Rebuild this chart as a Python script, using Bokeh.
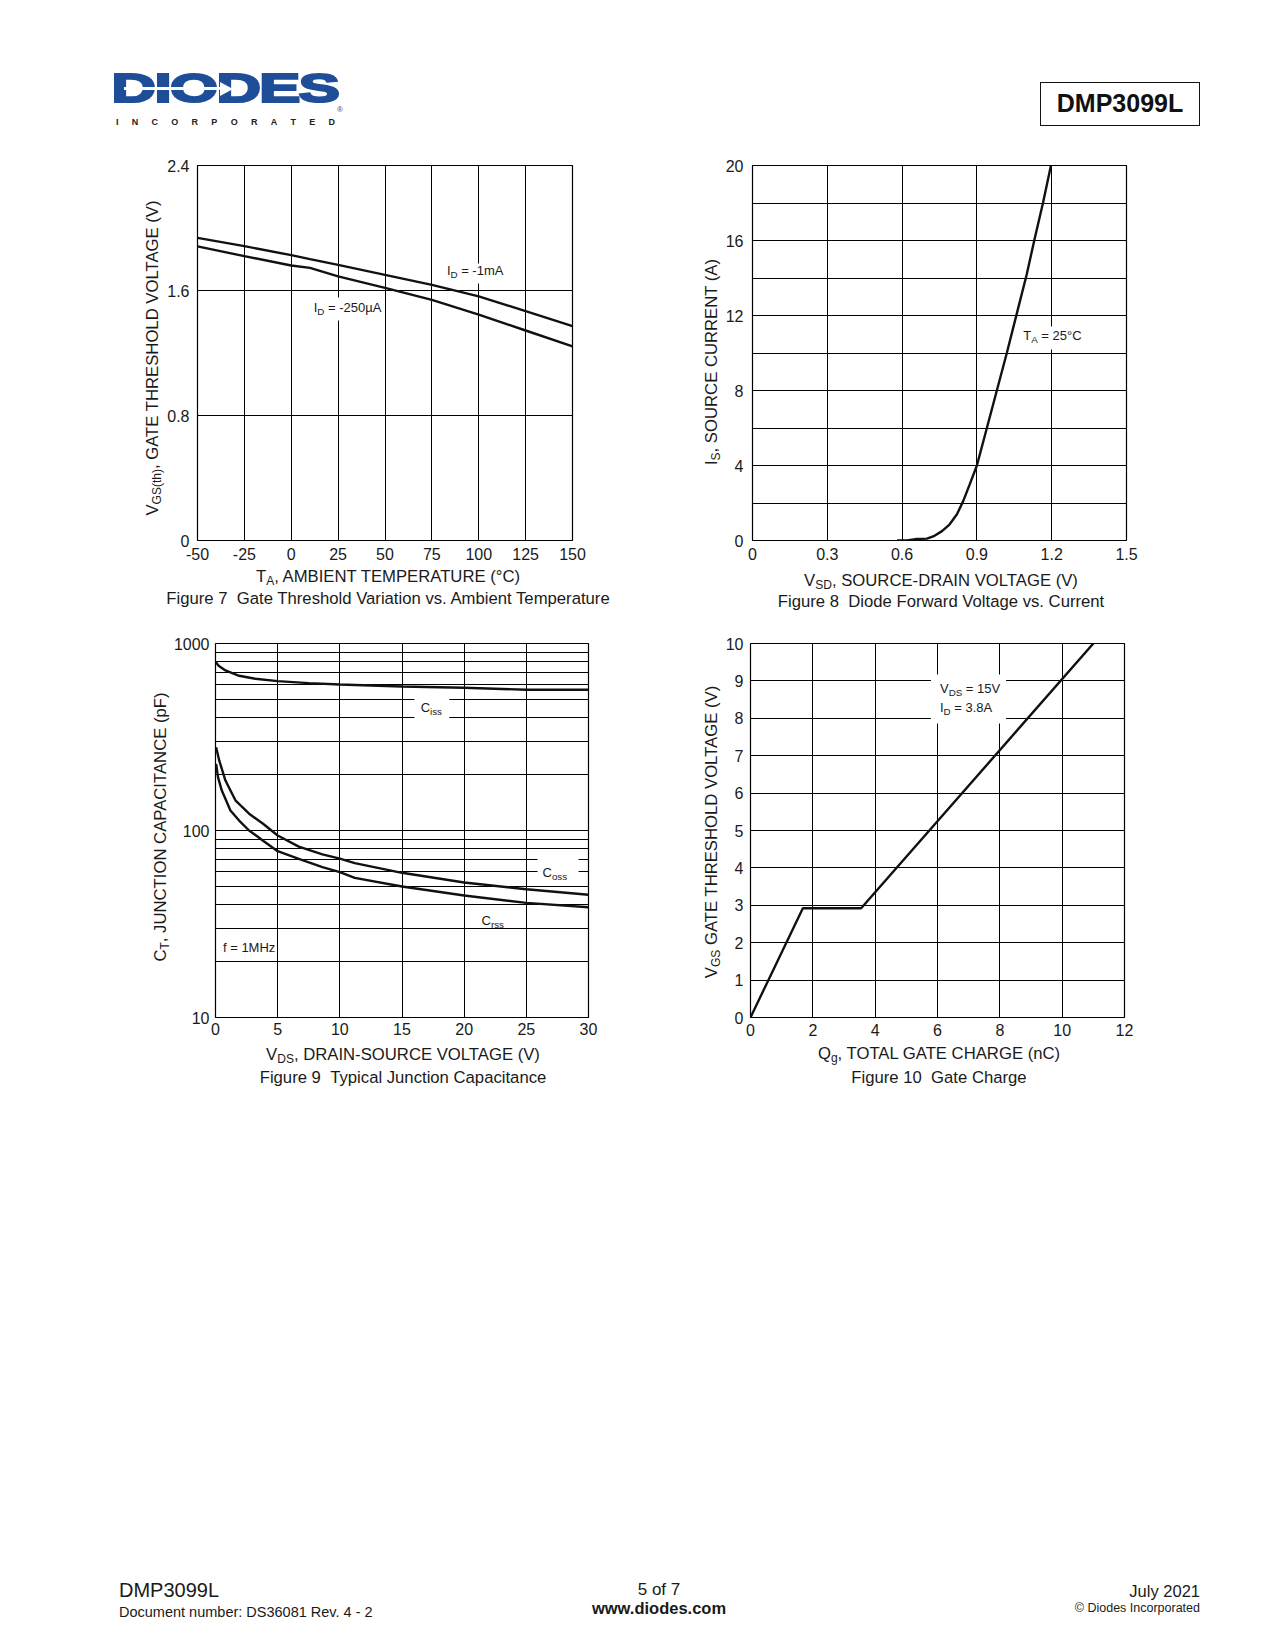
from bokeh.plotting import figure
from bokeh.layouts import column, row
from bokeh.models import Div, Spacer, Range1d, FixedTicker, CustomJSTickFormatter
from bokeh.core.properties import value
from bokeh.embed import file_html
from bokeh.resources import INLINE

FONT = "Liberation Sans"
INK = "#1a1a1a"

# ---------------- data ----------------
# Figure 7: gate threshold vs ambient temperature
TEMP = [-50, -25, 0, 10, 25, 50, 75, 100, 125, 150]
VTH_1MA = [1.937, 1.884, 1.826, 1.801, 1.764, 1.700, 1.636, 1.562, 1.468, 1.372]
VTH_250UA = [1.882, 1.820, 1.760, 1.745, 1.690, 1.617, 1.540, 1.446, 1.344, 1.242]
X7_TICKS = [-50, -25, 0, 25, 50, 75, 100, 125, 150]
Y7_TICKS = [0, 0.8, 1.6, 2.4]

# Figure 8: diode forward voltage vs current
VSD = [0.58, 0.62, 0.66, 0.70, 0.73, 0.76, 0.79, 0.82, 0.845, 0.87, 0.90, 0.94, 0.98, 1.02, 1.06, 1.10, 1.13, 1.165, 1.197]
IS = [0.0, 0.0, 0.08, 0.1, 0.25, 0.5, 0.85, 1.4, 2.1, 2.95, 4.0, 6.0, 8.0, 10.0, 12.1, 14.2, 16.0, 18.0, 20.0]
X8_TICKS = [0, 0.3, 0.6, 0.9, 1.2, 1.5]
Y8_TICKS = [0, 4, 8, 12, 16, 20]
Y8_MINOR = [2, 6, 10, 14, 18]

# Figure 9: junction capacitance
VDS_ISS = [0, 0.25, 0.8, 1.9, 3.2, 5, 7.5, 10, 15, 20, 25, 30]
CISS = [800, 760, 718, 672, 648, 629, 614, 604, 589, 580, 566, 566]
VDS_OSS = [0.05, 0.3, 0.8, 1.6, 2.7, 3.8, 5, 6.7, 8.6, 10, 11.2, 15, 20, 25, 30]
COSS = [279, 237, 185, 145, 123, 109, 94, 82, 74.5, 70.7, 66.9, 59.4, 52.7, 48.5, 45.3]
VDS_RSS = [0.05, 0.2, 0.5, 1.2, 1.9, 2.7, 3.8, 5, 6.7, 8.6, 10, 11.2, 15, 20, 25, 30]
CRSS = [227, 193, 164, 128, 113, 100, 88.4, 77.5, 70.6, 63.7, 59.9, 55.8, 50.2, 44.9, 41.0, 38.9]
X9_TICKS = [0, 5, 10, 15, 20, 25, 30]
Y9_TICKS = [10, 100, 1000]
Y9_MINOR = [20, 30, 40, 50, 60, 70, 80, 90, 200, 300, 400, 500, 600, 700, 800, 900]

# Figure 10: gate charge
QG = [0, 1.68, 3.55, 11.0]
VGS = [0, 2.92, 2.92, 10.0]
X10_TICKS = [0, 2, 4, 6, 8, 10, 12]
Y10_TICKS = [0, 1, 2, 3, 4, 5, 6, 7, 8, 9, 10]

# in-plot annotation texts (position in data units, pieces: (text, is_subscript))
LBL7 = [(83.0, 1.728, [("I", 0), ("D", 1), (" = -1mA", 0)]),
        (12.0, 1.493, [("I", 0), ("D", 1), (" = -250µA", 0)])]
BOX7 = dict(left=[80, 9], right=[115, 50], bottom=[1.645, 1.408], top=[1.773, 1.555])
LBL8 = [(1.086, 10.93, [("T", 0), ("A", 1), (" = 25°C", 0)])]
BOX8 = dict(left=[1.066], right=[1.33], bottom=[10.19], top=[11.41])
LBL9 = [(16.5, 456, [("C", 0), ("iss", 1)]),
        (26.3, 59.9, [("C", 0), ("oss", 1)]),
        (21.4, 33.0, [("C", 0), ("rss", 1)]),
        (0.6, 23.8, [("f = 1MHz", 0)])]
BOX9 = dict(left=[16.0, 25.9], right=[18.8, 29.2], bottom=[380, 50.8], top=[540, 72.6])
LBL10 = [(6.08, 8.80, [("V", 0), ("DS", 1), (" = 15V", 0)]),
         (6.08, 8.29, [("I", 0), ("D", 1), (" = 3.8A", 0)])]
BOX10 = dict(left=[5.79], right=[8.2], bottom=[7.86], top=[9.17])

# ---------------- helpers ----------------
AW = {' ': 278, '(': 333, ')': 333, ',': 278, '-': 333, '.': 278, '=': 584, ':': 278,
      '°': 400, 'µ': 556,
      'A': 667, 'B': 667, 'C': 722, 'D': 722, 'E': 667, 'F': 611, 'G': 778, 'H': 722, 'I': 278,
      'L': 556, 'M': 833, 'N': 722, 'O': 778, 'P': 667, 'R': 722, 'S': 667, 'T': 611, 'V': 667,
      'a': 556, 'c': 500, 'd': 556, 'e': 556, 'f': 278, 'g': 556, 'h': 556, 'i': 222, 'l': 222,
      'm': 833, 'n': 556, 'o': 556, 'r': 333, 's': 500, 't': 278, 'u': 556, 'z': 500}


def text_width(s, size):
    return sum(AW.get(c, 556) for c in s) * size / 1000.0


def make_fig(w, h, xr, yr, bl, br, bt, bb, xticks, yticks, yminor=None, ylog=False,
             xstand=5, ystand=8):
    p = figure(width=w, height=h, x_range=Range1d(*xr), y_range=Range1d(*yr),
               y_axis_type="log" if ylog else "linear",
               output_backend="svg", toolbar_location=None,
               min_border_left=bl, min_border_right=br, min_border_top=bt, min_border_bottom=bb,
               outline_line_color="black", outline_line_width=1.2,
               background_fill_color="white", border_fill_color="white", margin=0)
    p.xaxis.ticker = FixedTicker(ticks=xticks)
    p.yaxis.ticker = FixedTicker(ticks=yticks, minor_ticks=yminor or [])
    for ax in list(p.xaxis) + list(p.yaxis):
        ax.formatter = CustomJSTickFormatter(code="return tick.toString();")
        ax.axis_line_color = None
        ax.major_tick_line_color = None
        ax.minor_tick_line_color = None
        ax.major_tick_out = 0
        ax.major_tick_in = 0
        ax.minor_tick_out = 0
        ax.minor_tick_in = 0
        ax.major_label_text_font = FONT
        ax.major_label_text_font_size = "16px"
        ax.major_label_text_color = INK
    p.xaxis.major_label_standoff = xstand
    p.yaxis.major_label_standoff = ystand
    for g in (p.xgrid, p.ygrid):
        g.grid_line_color = "black"
        g.grid_line_width = 1
        g.grid_line_alpha = 1
    if yminor:
        p.ygrid.minor_grid_line_color = "black"
        p.ygrid.minor_grid_line_width = 1
    return p


def rich(p, x, y, pieces, shift, size=13):
    off = 0.0
    for t, sub in pieces:
        fs = size * 0.75 if sub else size
        yy = shift(y, size * 0.3) if sub else y
        lead = len(t) - len(t.lstrip(" "))
        off += text_width(" " * lead, fs)
        t2 = t.lstrip(" ")
        p.text(x=[x], y=[yy], text=[t2], x_offset=off,
               text_font=value(FONT), text_font_size=value(f"{fs:.1f}px"),
               text_align=value("left"), text_baseline=value("middle"), text_color=INK)
        off += text_width(t2, fs)


def lin_shift(y0, y1, frame_h):
    return lambda y, px: y - px * (y1 - y0) / frame_h


def log_shift(decades, frame_h):
    return lambda y, px: y / 10 ** (px * decades / frame_h)


SUB = '<sub style="font-size:0.72em;vertical-align:-0.28em;line-height:0;">'
TS = 16.7  # axis title / caption font size


def pos_text(x, y, html, size=TS, anchor="center", rotate=0, extra=""):
    tx = {"center": "-50%", "left": "0", "right": "-100%"}[anchor]
    rot = f" rotate({rotate}deg)" if rotate else ""
    return (f'<div style="position:absolute;left:{x}px;top:{y}px;'
            f'transform:translate({tx},-50%){rot};white-space:nowrap;line-height:1;'
            f'font-family:Liberation Sans,Arial,sans-serif;font-size:{size}px;color:{INK};{extra}">'
            f'{html}</div>')


def text_div(w, h, items):
    inner = "".join(items)
    return Div(text=f'<div style="position:relative;width:{w}px;height:{h}px;">{inner}</div>',
               width=w, height=h, margin=0)


LINE_W = 2.4
LINE_C = "#111111"

# ---------------- Figure 7 ----------------
p7 = make_fig(424, 415, (-50, 150), (0, 2.4), 33, 16, 15, 25, X7_TICKS, Y7_TICKS, xstand=7, ystand=8)
p7.quad(fill_color="white", line_color=None, **BOX7)
p7.line(TEMP, VTH_1MA, line_color=LINE_C, line_width=LINE_W)
p7.line(TEMP, VTH_250UA, line_color=LINE_C, line_width=LINE_W)
for x, y, pcs in LBL7:
    rich(p7, x, y, pcs, lin_shift(0, 2.4, 375))

# ---------------- Figure 8 ----------------
p8 = make_fig(419, 415, (0, 1.5), (0, 20), 29, 15, 15, 25, X8_TICKS, Y8_TICKS, Y8_MINOR, xstand=7, ystand=9)
p8.quad(fill_color="white", line_color=None, **BOX8)
p8.line(VSD, IS, line_color=LINE_C, line_width=LINE_W)
for x, y, pcs in LBL8:
    rich(p8, x, y, pcs, lin_shift(0, 20, 375))

# ---------------- Figure 9 ----------------
p9 = make_fig(433, 415, (0, 30), (10, 1000), 43, 15, 15, 25, X9_TICKS, Y9_TICKS, Y9_MINOR, ylog=True,
              xstand=5, ystand=6)
p9.quad(fill_color="white", line_color=None, **BOX9)
p9.line(VDS_ISS, CISS, line_color=LINE_C, line_width=LINE_W)
p9.line(VDS_OSS, COSS, line_color=LINE_C, line_width=LINE_W)
p9.line(VDS_RSS, CRSS, line_color=LINE_C, line_width=LINE_W)
for x, y, pcs in LBL9:
    rich(p9, x, y, pcs, log_shift(2, 375))

# ---------------- Figure 10 ----------------
p10 = make_fig(417, 415, (0, 12), (0, 10), 27, 15, 14, 26, X10_TICKS, Y10_TICKS, xstand=6, ystand=7)
p10.quad(fill_color="white", line_color=None, **BOX10)
p10.line(QG, VGS, line_color=LINE_C, line_width=LINE_W)
for x, y, pcs in LBL10:
    rich(p10, x, y, pcs, lin_shift(0, 10, 375))

# ---------------- page texts ----------------
BLUE = "#1f4e99"
header = text_div(1200, 142, [
    pos_text(217, 80, "DIODES", size=41,
             extra=f"font-weight:bold;color:{BLUE};-webkit-text-stroke:2.2px {BLUE};"
                   "letter-spacing:-1px;transform:translate(-50%,-50%) scaleX(1.5);"),
    '<div style="position:absolute;left:116px;top:79px;width:98px;height:3px;background:white;"></div>',
    '<div style="position:absolute;left:212px;top:74px;width:0;height:0;border-top:7px solid transparent;'
    'border-bottom:7px solid transparent;border-left:13px solid white;"></div>',
    '<div style="position:absolute;left:108px;top:109px;width:219px;height:10px;display:flex;'
    'justify-content:space-between;font-family:Liberation Sans,Arial,sans-serif;font-weight:bold;'
    'font-size:9px;line-height:10px;color:#222;">'
    + "".join(f"<span>{c}</span>" for c in "INCORPORATED") + '</div>',
    pos_text(332, 102, "®", size=8, extra=f"color:{BLUE};"),
    '<div style="position:absolute;left:1032px;top:74px;width:160px;height:44px;box-sizing:border-box;'
    'border:1.5px solid #111;display:flex;align-items:center;justify-content:center;'
    'font-family:Liberation Sans,Arial,sans-serif;font-weight:bold;font-size:25px;color:#111;">DMP3099L</div>',
])

divA = text_div(156, 415, [pos_text(145, 208, f"V{SUB}GS(th)</sub>, GATE THRESHOLD VOLTAGE (V)", rotate=-90)])
divB = text_div(134, 415, [pos_text(124, 212, f"I{SUB}S</sub>, SOURCE CURRENT (A)", rotate=-90)])
divC = text_div(162, 415, [pos_text(153, 199, f"C{SUB}T</sub>, JUNCTION CAPACITANCE (pF)", rotate=-90)])
divD = text_div(119, 415, [pos_text(109, 204, f"V{SUB}GS</sub> GATE THRESHOLD VOLTAGE (V)", rotate=-90)])

below1 = text_div(1200, 63, [
    pos_text(380, 12, f"T{SUB}A</sub>, AMBIENT TEMPERATURE (°C)"),
    pos_text(380, 34, "Figure 7&nbsp;&nbsp;Gate Threshold Variation vs. Ambient Temperature"),
    pos_text(933, 16, f"V{SUB}SD</sub>, SOURCE-DRAIN VOLTAGE (V)"),
    pos_text(933, 37, "Figure 8&nbsp;&nbsp;Diode Forward Voltage vs. Current"),
])
below2 = text_div(1200, 60, [
    pos_text(395, 12, f"V{SUB}DS</sub>, DRAIN-SOURCE VOLTAGE (V)"),
    pos_text(395, 35, "Figure 9&nbsp;&nbsp;Typical Junction Capacitance"),
    pos_text(931, 11, f"Q{SUB}g</sub>, TOTAL GATE CHARGE (nC)"),
    pos_text(931, 35, "Figure 10&nbsp;&nbsp;Gate Charge"),
])

footer = text_div(1200, 50, [
    pos_text(111, 20, "DMP3099L", size=20, anchor="left"),
    pos_text(111, 42, "Document number: DS36081 Rev. 4 - 2", size=14.5, anchor="left"),
    pos_text(651, 19, "5 of 7", size=17),
    pos_text(651, 38, "www.diodes.com", size=16.5, extra="font-weight:bold;"),
    pos_text(1192, 21, "July 2021", size=16.5, anchor="right"),
    pos_text(1192, 38, "© Diodes Incorporated", size=12.5, anchor="right"),
])

row1 = row(divA, p7, divB, p8, spacing=0, margin=0)
row2 = row(divC, p9, divD, p10, spacing=0, margin=0)
content = column(header, row1, below1, row2, below2, Spacer(width=10, height=467, margin=0), footer,
                 spacing=0, margin=0)
page = column(Spacer(width=10, height=8, margin=0),
              row(Spacer(width=8, height=10, margin=0), content, spacing=0, margin=0),
              spacing=0, margin=0)

with open("out.html", "w") as f:
    f.write(file_html(page, INLINE, title="DMP3099L"))
